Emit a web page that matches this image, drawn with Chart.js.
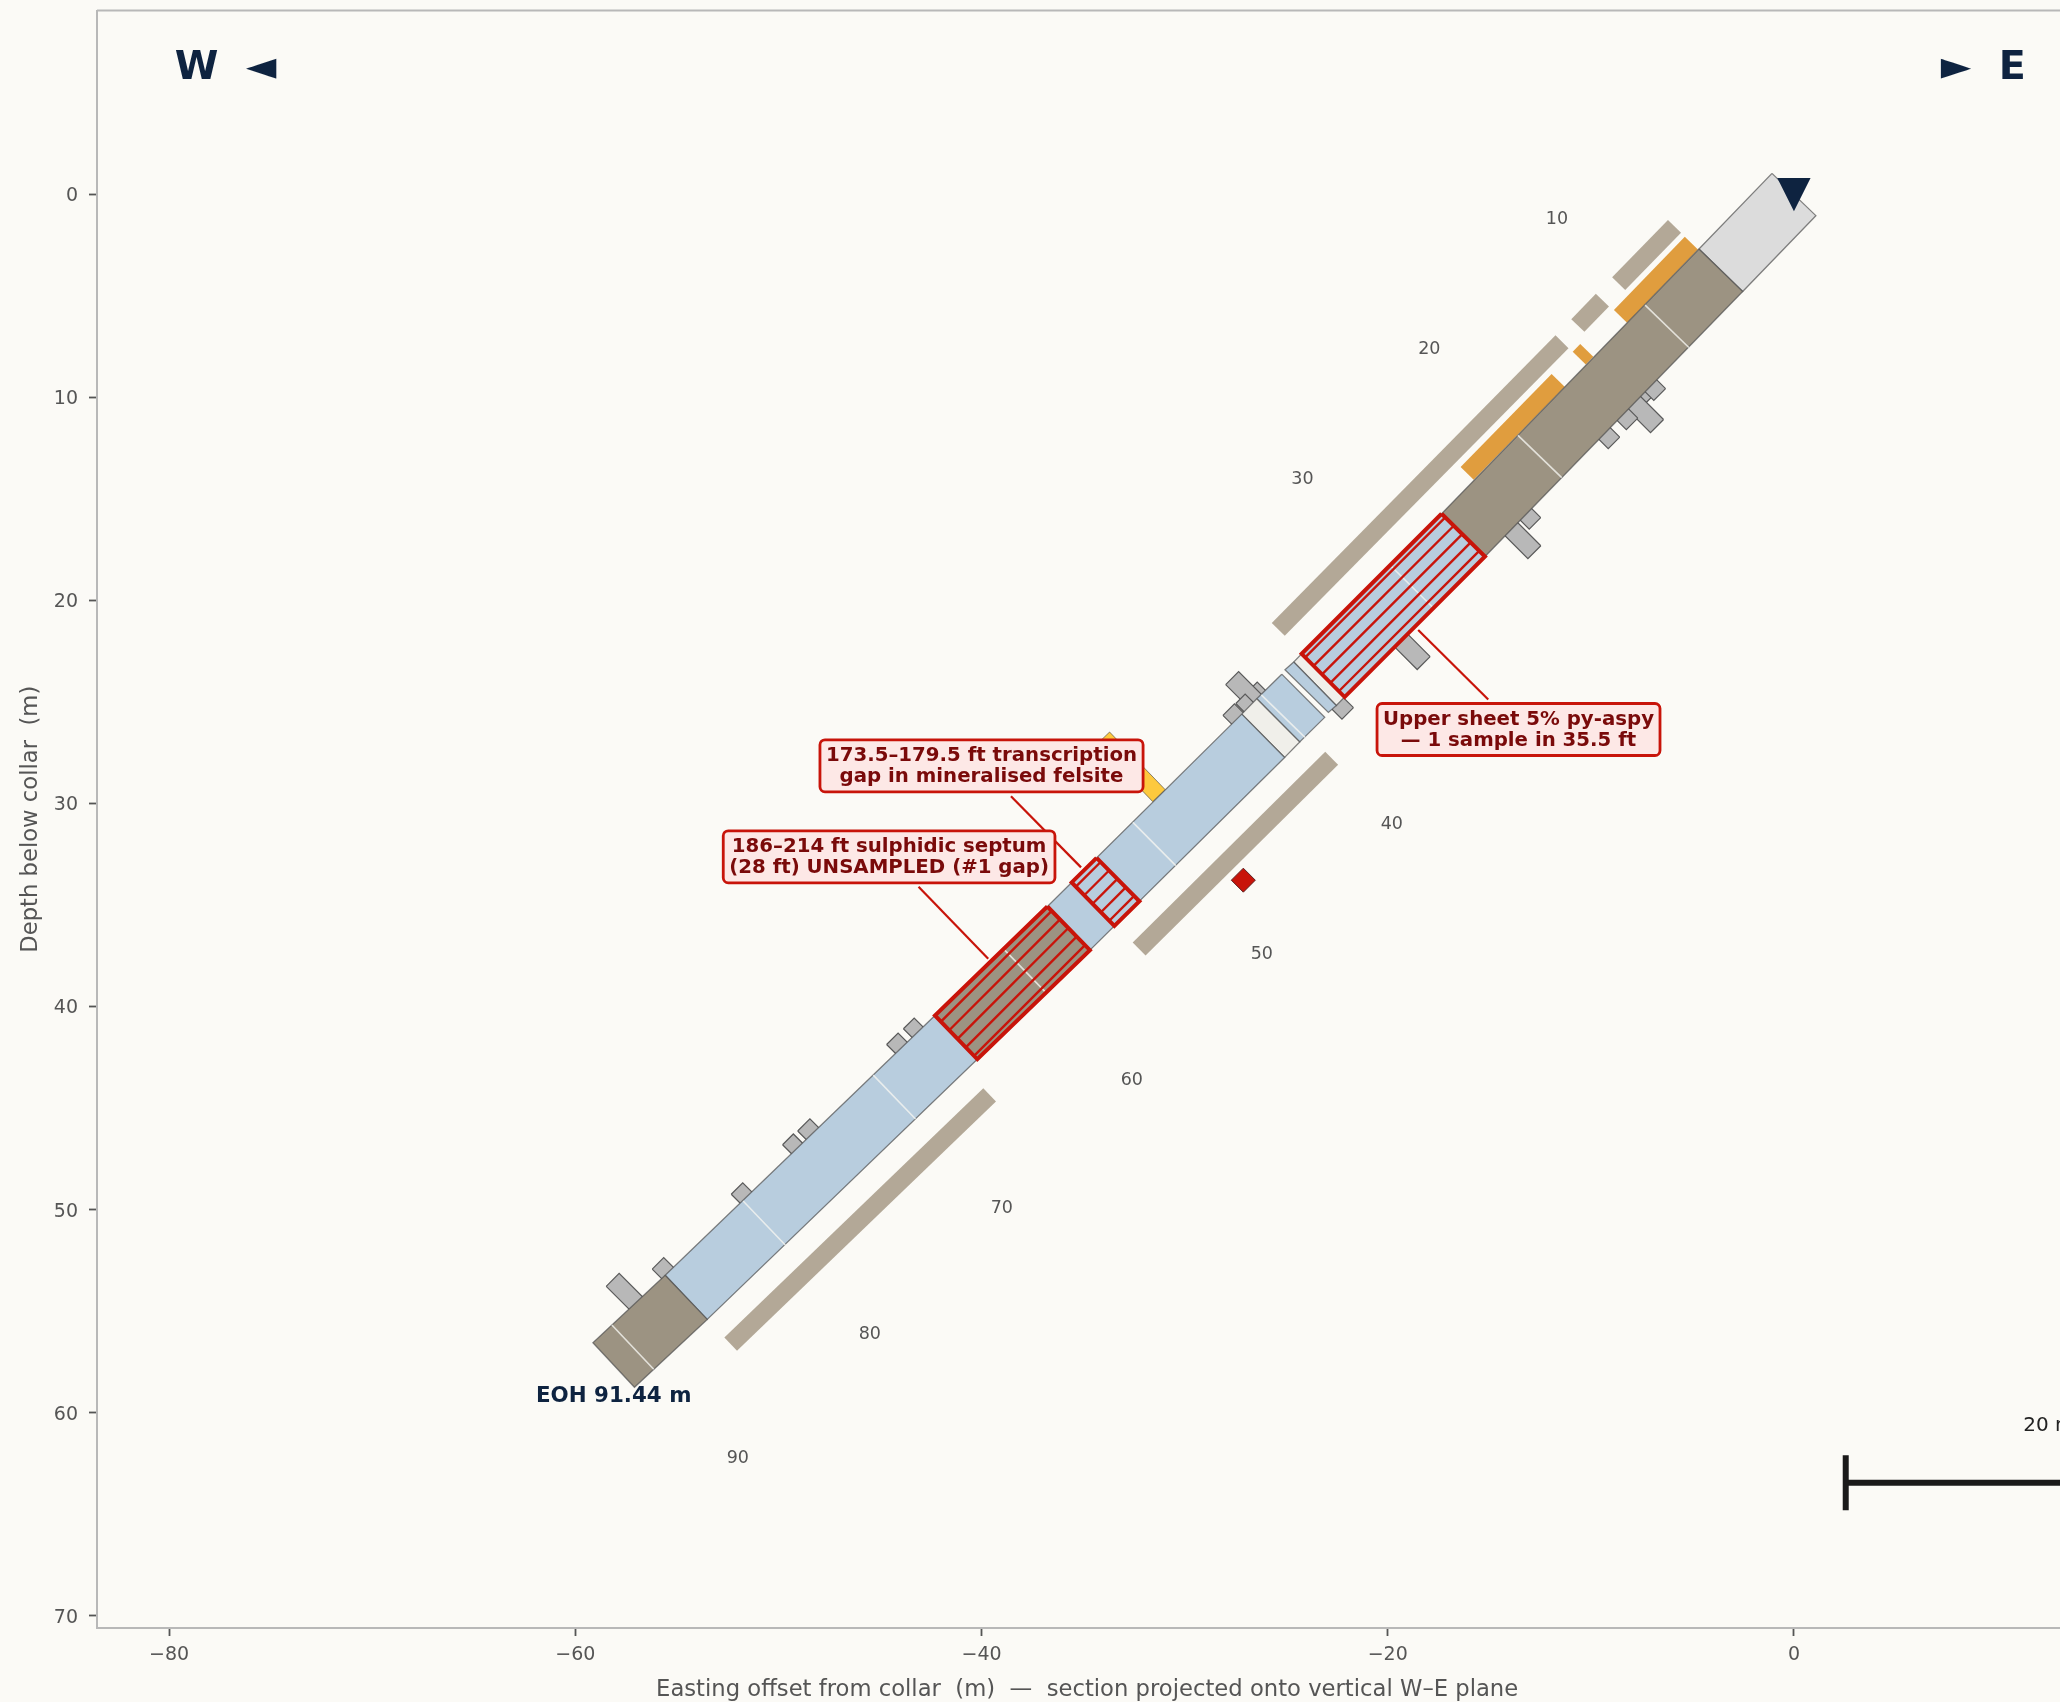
<!DOCTYPE html>
<html>
<head>
<meta charset="utf-8">
<title>Drill hole section</title>
<script src="https://cdn.jsdelivr.net/npm/chart.js@4/dist/chart.umd.min.js"></script>
<style>
  html, body { margin: 0; padding: 0; background: #fbfaf6; overflow: hidden; }
  #wrap { width: 2060px; height: 1702px; }
</style>
</head>
<body>
<div id="wrap"><canvas id="section" width="2060" height="1702"></canvas></div>
<script>
const stationX = [0, -3.6, -6.25, -12.51, -16.28, -18.74, -23.18, -23.58, -23.99, -24.16, -25.15, -25.39, -26.13, -31.49, -33.28, -34.51, -35.71, -37.86, -41.25, -44.29, -50.7, -54.54, -57.17, -58.11];
const stationY = [0.02, 3.75, 6.51, 12.92, 16.79, 19.4, 23.7, 24.11, 24.47, 24.7, 25.7, 25.91, 26.67, 32, 33.75, 34.96, 36.15, 38.25, 41.52, 44.46, 50.66, 54.32, 56.77, 57.65];

// lithology intervals, as station indexes
const intervalFrom = [0, 1, 4, 6, 7, 9, 11, 12, 16, 18, 21];
const intervalTo = [1, 4, 6, 7, 8, 11, 12, 16, 18, 21, 23];
const intervalRock = ["casing", "mafic", "felsite", "vein", "felsite", "felsite", "vein", "felsite", "mafic", "felsite", "mafic"];
const runBreaks = [2, 3, 5, 10, 13, 17, 19, 20, 22];

// unsampled gaps
const gapFrom = [4, 14, 16];
const gapTo = [6, 15, 18];
const hatchOffsets = [-1.25, -0.42, 0.41, 1.24, 2.07];

// assay strips beside the hole (start x, start y, end x, end y)
const tanX0 = [-5.88, -9.43, -11.42, -22.76, -39.6];
const tanY0 = [1.59, 5.22, 7.27, 27.78, 44.35];
const tanX1 = [-8.63, -10.64, -25.39, -32.24, -52.35];
const tanY1 = [4.41, 6.47, 21.43, 37.17, 56.62];
const orangeX0 = [-5.05, -10.2, -11.61];
const orangeY0 = [2.41, 7.7, 9.17];
const orangeX1 = [-8.54, -10.57, -16.09];
const orangeY1 = [6.02, 8.08, 13.75];
const yellowX = [-34.0, -31.26];
const yellowY = [26.78, 29.62];

// structure ticks: tip position, width, side of the hole (+1 east side, -1 west side)
const tickX = [-7.12, -6.61, -6.74, -7.97, -8.86, -12.75, -12.78, -18.23, -21.97, -26.62, -27.66, -27.83, -27.25, -43.58, -44.39, -49.53, -48.75, -52.04, -55.93, -58.16];
const tickY = [10.11, 9.87, 11.42, 11.31, 12.25, 16.21, 17.63, 23.09, 25.57, 24.22, 23.83, 25.38, 24.85, 40.83, 41.59, 46.54, 45.83, 48.96, 52.65, 53.46];
const tickWide = [0.5, 0.82, 0.91, 0.8, 0.8, 0.8, 0.9, 0.9, 0.8, 0.55, 0.9, 0.8, 0.65, 0.75, 0.8, 0.75, 0.85, 0.8, 0.8, 0.9];
const tickSide = [1, 1, 1, 1, 1, 1, 1, 1, 1, -1, -1, -1, -1, -1, -1, -1, -1, -1, -1, -1];

const pyriteX = [-27.11];
const pyriteY = [33.78];
const collarX = [-0.82, 0.82, 0];
const collarY = [-0.79, -0.79, 0.85];

const depthLabels = ["10", "20", "30", "40", "50", "60", "70", "80", "90"];
const depthLabelX = [-11.67, -17.95, -24.2, -19.8, -26.2, -32.6, -39, -45.5, -52];
const depthLabelY = [1.24, 7.66, 14.06, 31.06, 37.46, 43.66, 49.96, 56.16, 62.26];

const calloutLines = [
  ["173.5–179.5 ft transcription", "gap in mineralised felsite"],
  ["186–214 ft sulphidic septum", "(28 ft) UNSAMPLED (#1 gap)"],
  ["Upper sheet 5% py-aspy", "— 1 sample in 35.5 ft"],
];
const calloutX = [-40.0, -44.55, -13.56];
const calloutY = [28.15, 32.63, 26.36];
const leaderX0 = [-38.55, -43.1, -18.5];
const leaderY0 = [29.65, 34.1, 21.46];
const leaderX1 = [-35.1, -39.67, -15.05];
const leaderY1 = [33.15, 37.65, 24.88];

const scaleBarX = [2.55, 22.55];
const scaleBarY = 63.45;

const xTicks = [-80, -60, -40, -20, 0];
const yTicks = [0, 10, 20, 30, 40, 50, 60, 70];
const xTitle = "Easting offset from collar  (m)  —  section projected onto vertical W–E plane";

const rockColors = { casing: "#dcdcdc", mafic: "#9c9382", felsite: "#b8cdde", vein: "#f0efea" };
const RED = "#c8140a";
const NAVY = "#0e2340";
const HALF_WIDTH = 1.5;
const STRIP_WIDTH = 0.9;
const TICK_REACH = 2.5;

// unit normal of the trace at a station, taken over a couple of stations either side
function normalAt(i) {
  const a = Math.max(0, i - 2);
  const b = Math.min(stationX.length - 1, i + 2);
  const dx = stationX[b] - stationX[a];
  const dy = stationY[b] - stationY[a];
  const len = Math.hypot(dx, dy);
  return { x: -dy / len, y: dx / len };
}

function edgePoint(i, side) {
  const n = normalAt(i);
  return { x: stationX[i] + n.x * HALF_WIDTH * side, y: stationY[i] + n.y * HALF_WIDTH * side };
}

function intervalShape(from, to) {
  return [edgePoint(from, 1), edgePoint(from, -1), edgePoint(to, -1), edgePoint(to, 1), edgePoint(from, 1)];
}

function stripShape(x0, y0, x1, y1, wide) {
  const len = Math.hypot(x1 - x0, y1 - y0);
  const nx = -(y1 - y0) / len * wide / 2;
  const ny = (x1 - x0) / len * wide / 2;
  return [
    { x: x0 + nx, y: y0 + ny },
    { x: x0 - nx, y: y0 - ny },
    { x: x1 - nx, y: y1 - ny },
    { x: x1 + nx, y: y1 + ny },
    { x: x0 + nx, y: y0 + ny },
  ];
}

// hatch line x + y = c clipped to a closed shape
function hatchSegment(shape, c) {
  const hits = [];
  for (let i = 0; i < shape.length - 1; i++) {
    const p = shape[i];
    const q = shape[i + 1];
    const a = p.x + p.y - c;
    const b = q.x + q.y - c;
    if (a * b < 0) {
      const t = a / (a - b);
      hits.push({ x: p.x + (q.x - p.x) * t, y: p.y + (q.y - p.y) * t });
    }
  }
  return hits.length === 2 ? hits : null;
}

function shapeSet(data, fill, border, width) {
  return {
    data, showLine: true, tension: 0, pointRadius: 0, polygonFill: fill,
    borderColor: border || "transparent", borderWidth: border ? width : 0,
    borderJoinStyle: "miter",
  };
}

function lineSet(data, color, width) {
  return { data, showLine: true, tension: 0, pointRadius: 0, borderColor: color, borderWidth: width, borderCapStyle: "butt" };
}

// listed back to front, reversed when handed to the chart
const layers = [];

tanX0.forEach((x, i) => layers.push(shapeSet(stripShape(x, tanY0[i], tanX1[i], tanY1[i], STRIP_WIDTH), "#b3a897")));
orangeX0.forEach((x, i) => layers.push(shapeSet(stripShape(x, orangeY0[i], orangeX1[i], orangeY1[i], STRIP_WIDTH), "#e09d3e")));
layers.push(shapeSet(stripShape(yellowX[0], yellowY[0], yellowX[1], yellowY[1], 0.85), "#fdc93e", "rgba(60,60,60,0.6)", 1));

tickX.forEach((x, i) => {
  const back = TICK_REACH * Math.SQRT1_2 * -tickSide[i];
  layers.push(shapeSet(stripShape(x, tickY[i], x + back, tickY[i] + back, tickWide[i]), "#b8b8b8", "#5a5a5a", 1.2));
});

intervalFrom.forEach((from, i) => {
  layers.push(shapeSet(intervalShape(from, intervalTo[i]), rockColors[intervalRock[i]], "rgba(80,80,80,0.7)", 1.3));
});

runBreaks.forEach((s) => layers.push(lineSet([edgePoint(s, 1), edgePoint(s, -1)], "rgba(245,245,240,0.8)", 1.6)));

gapFrom.forEach((from, i) => {
  const shape = intervalShape(from, gapTo[i]);
  hatchOffsets.forEach((c) => {
    const seg = hatchSegment(shape, c);
    if (seg) layers.push(lineSet(seg, RED, 2.4));
  });
  layers.push(shapeSet(shape, null, RED, 4));
});

leaderX0.forEach((x, i) => layers.push(lineSet([{ x, y: leaderY0[i] }, { x: leaderX1[i], y: leaderY1[i] }], RED, 2.2)));

layers.push({
  data: [{ x: pyriteX[0], y: pyriteY[0] }], pointStyle: "rectRot", pointRadius: 12,
  pointBackgroundColor: RED, pointBorderColor: "#5a2020", pointBorderWidth: 1,
});

layers.push(shapeSet(collarX.map((x, i) => ({ x, y: collarY[i] })).concat({ x: collarX[0], y: collarY[0] }), NAVY));

layers.push(lineSet([{ x: scaleBarX[0], y: scaleBarY }, { x: scaleBarX[1], y: scaleBarY }], "#1a1a1a", 6));
layers.push(lineSet([{ x: scaleBarX[0], y: scaleBarY - 1.35 }, { x: scaleBarX[0], y: scaleBarY + 1.35 }], "#1a1a1a", 6));

const noPadding = () => ({ left: 0, right: 0, top: 0, bottom: 0 });

const sectionPlugin = {
  id: "sectionPlugin",
  beforeDatasetDraw(chart, args) {
    const fill = chart.data.datasets[args.index].polygonFill;
    if (!fill) return;
    const pts = args.meta.data;
    const ctx = chart.ctx;
    ctx.save();
    ctx.beginPath();
    pts.forEach((p, i) => (i ? ctx.lineTo(p.x, p.y) : ctx.moveTo(p.x, p.y)));
    ctx.closePath();
    ctx.fillStyle = fill;
    ctx.fill();
    ctx.restore();
  },
  afterDraw(chart) {
    const { ctx, scales, chartArea } = chart;
    const px = (v) => scales.x.getPixelForValue(v);
    const py = (v) => scales.y.getPixelForValue(v);
    ctx.save();

    // top spine
    ctx.strokeStyle = "#b8b8b8";
    ctx.lineWidth = 2;
    ctx.beginPath();
    ctx.moveTo(chartArea.left, chartArea.top);
    ctx.lineTo(chartArea.right, chartArea.top);
    ctx.stroke();

    ctx.textBaseline = "middle";
    ctx.textAlign = "center";

    ctx.font = "17.5px 'DejaVu Sans'";
    ctx.fillStyle = "#555555";
    depthLabels.forEach((t, i) => ctx.fillText(t, px(depthLabelX[i]), py(depthLabelY[i])));

    // the real axes run past the page edge, so the title is centred by hand
    ctx.font = "22.7px 'DejaVu Sans'";
    ctx.fillText(xTitle, px(-34.8), chartArea.bottom + 62.5);

    ctx.font = "bold 19.75px 'DejaVu Sans'";
    calloutLines.forEach((lines, i) => {
      const cx = px(calloutX[i]);
      const cy = py(calloutY[i]);
      const w = Math.max(...lines.map((l) => ctx.measureText(l).width)) + 12;
      const h = 52;
      ctx.beginPath();
      ctx.roundRect(cx - w / 2, cy - h / 2, w, h, 5);
      ctx.fillStyle = "#fde8e6";
      ctx.fill();
      ctx.strokeStyle = RED;
      ctx.lineWidth = 2.8;
      ctx.stroke();
      ctx.fillStyle = "#7a0a0a";
      ctx.fillText(lines[0], cx, cy - 9.5);
      ctx.fillText(lines[1], cx, cy + 11.5);
    });

    ctx.font = "bold 21.4px 'DejaVu Sans'";
    ctx.fillStyle = NAVY;
    ctx.fillText("EOH 91.44 m", px(-58.11), py(59.2));

    ctx.font = "20px 'DejaVu Sans'";
    ctx.fillStyle = "#222222";
    ctx.fillText("20 m", px((scaleBarX[0] + scaleBarX[1]) / 2), py(60.62));

    ctx.font = "bold 39.6px 'DejaVu Sans'";
    ctx.fillStyle = NAVY;
    ctx.textAlign = "left";
    ctx.fillText("W  ◄", px(-79.72), py(-6.18));
    ctx.textAlign = "right";
    ctx.fillText("►  E", px(11.42), py(-6.18));
    ctx.restore();
  },
};

new Chart(document.getElementById("section"), {
  type: "scatter",
  data: { datasets: layers.reverse() },
  plugins: [sectionPlugin],
  options: {
    responsive: false,
    animation: false,
    events: [],
    layout: { autoPadding: false, padding: { top: 10.5, left: 0, right: 0, bottom: 0 } },
    plugins: { legend: { display: false }, tooltip: { enabled: false }, title: { display: false } },
    scales: {
      x: {
        type: "linear",
        position: "bottom",
        min: -83.55,
        max: 13.1,
        afterBuildTicks: (s) => { s.ticks = xTicks.map((value) => ({ value })); },
        afterFit: (s) => { s.height = 74; s.getPadding = noPadding; },
        ticks: {
          color: "#555555",
          font: { family: "'DejaVu Sans'", size: 19 },
          padding: 8,
          maxRotation: 0,
          callback: (v) => String(v).replace("-", "\u2212"),
        },
        grid: { drawOnChartArea: false, drawTicks: true, tickLength: 8, tickColor: "#555555", tickWidth: 1.8 },
        border: { display: true, color: "#b8b8b8", width: 2 },
      },
      y: {
        type: "linear",
        position: "left",
        reverse: true,
        min: -9.04,
        max: 70.6,
        afterBuildTicks: (s) => { s.ticks = yTicks.map((value) => ({ value })); },
        afterFit: (s) => { s.width = 97; s.getPadding = noPadding; },
        ticks: { color: "#555555", font: { family: "'DejaVu Sans'", size: 19 }, padding: 11, labelOffset: 2 },
        grid: { drawOnChartArea: false, drawTicks: true, tickLength: 8, tickColor: "#555555", tickWidth: 1.8 },
        border: { display: true, color: "#b8b8b8", width: 2 },
        title: {
          display: true,
          text: "Depth below collar  (m)",
          color: "#555555",
          font: { family: "'DejaVu Sans'", size: 22.7 },
          padding: { top: 17, bottom: 0 },
        },
      },
    },
  },
});
</script>
</body>
</html>
